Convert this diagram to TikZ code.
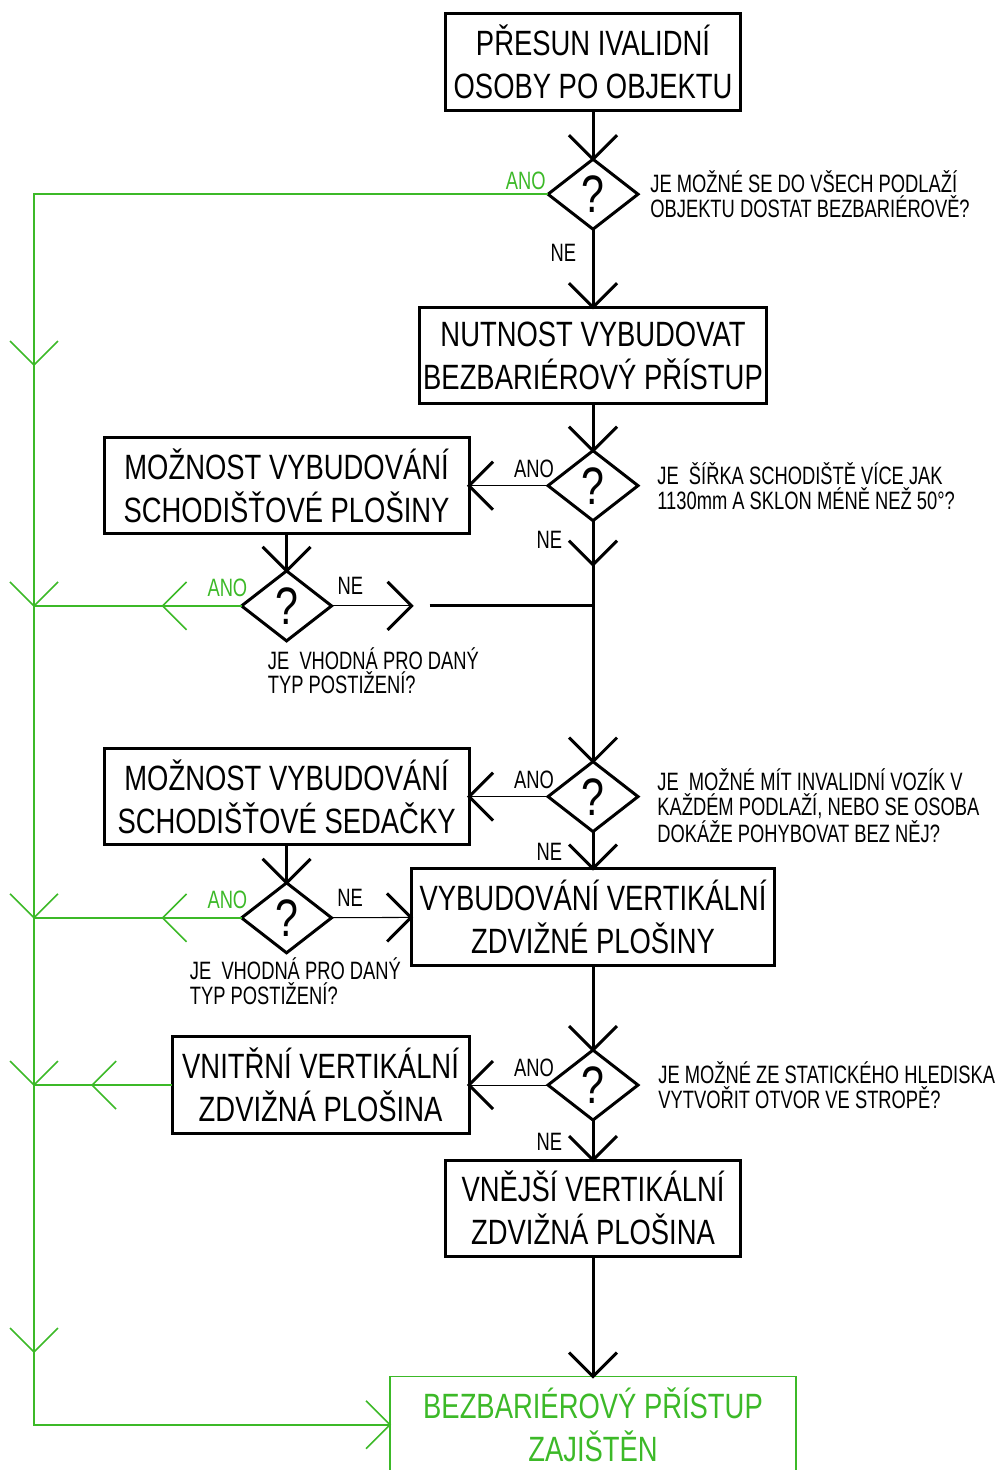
\documentclass[tikz,border=0pt]{standalone}
\usepackage{fontspec}
\setmainfont[FakeStretch=0.78]{Liberation Sans}
\newfontfamily\lblfam[FakeStretch=0.73]{Liberation Sans}
\usetikzlibrary{shapes.geometric,arrows.meta,positioning,calc,decorations.markings}
\definecolor{okgreen}{RGB}{60,185,40}

\newcommand{\boxfont}{\fontsize{20}{24.5}\selectfont}
\newcommand{\lblfont}{\lblfam\fontsize{14.3}{14.2}\selectfont}
\newcommand{\askfont}{\fontsize{30}{30}\selectfont}

% open chevron tip, as in the CAD drawing
\pgfdeclarearrow{
  name = Chev,
  defaults = {length = 0.48cm},
  parameters = {\the\pgfarrowlength,\the\pgfarrowlinewidth},
  setup code = {
    \pgfarrowssettipend{0pt}
    \pgfarrowssetlineend{0pt}
    \pgfarrowssetbackend{-\pgfarrowlength}
    \pgfarrowshullpoint{0pt}{0pt}
    \pgfarrowsupperhullpoint{-\pgfarrowlength}{\pgfarrowlength}
    \pgfarrowssave\pgfarrowlength
    \pgfarrowssave\pgfarrowlinewidth
  },
  drawing code = {
    \pgfsetdash{}{0pt}
    \pgfsetlinewidth{\pgfarrowlinewidth}
    \pgfpathmoveto{\pgfqpoint{-\pgfarrowlength}{\pgfarrowlength}}
    \pgfpathlineto{\pgfpointorigin}
    \pgfpathlineto{\pgfqpoint{-\pgfarrowlength}{-\pgfarrowlength}}
    \pgfusepathqstroke
  }
}

\begin{document}
\begin{tikzpicture}[x=0.02cm, y=0.02cm,
  box/.style={draw, line width=1.7pt, minimum height=1.93cm, align=center, font=\boxfont, inner sep=0pt, outer sep=0pt},
  okbox/.style={box, draw=okgreen, line width=0.9pt, text=okgreen},
  dec/.style={diamond, draw, line width=1.7pt, minimum width=1.8cm, minimum height=1.4cm, inner sep=0pt, outer sep=0pt, font=\askfont},
  ask/.style={font=\lblfont, align=left, inner sep=0pt},
  lbl/.style={font=\lblfont, inner sep=2pt},
  flow/.style={line width=1.7pt, -{Chev[line width=1.7pt]}},
  side/.style={line width=0.6pt, -{Chev[line width=1.7pt]}},
  yes/.style={draw=okgreen, line width=0.9pt},
  yesarr/.style={yes, -{Chev[line width=0.9pt]}},
  chevat/.style={postaction={decorate}, decoration={markings, mark=at position #1 with {\arrow{Chev[line width=0.9pt]}}}}
]
\useasboundingbox (0,0) rectangle (1001,-1470);

% main column
\node[box, minimum width=5.92cm] (start) at (593,-62) {PŘESUN IVALIDNÍ\\OSOBY PO OBJEKTU};
\node[dec, below=0.98cm of start] (d1) {?};
\node[box, minimum width=6.96cm, below=1.56cm of d1] (need) {NUTNOST VYBUDOVAT\\BEZBARIÉROVÝ PŘÍSTUP};
\node[dec, below=0.94cm of need] (d2) {?};
\node[dec, below=4.82cm of d2] (d4) {?};
\node[box, minimum width=7.28cm, below=0.74cm of d4] (lift) {VYBUDOVÁNÍ VERTIKÁLNÍ\\ZDVIŽNÉ PLOŠINY};
\node[dec, below=1.7cm of lift] (d6) {?};
\node[box, minimum width=5.92cm, below=0.8cm of d6] (outer) {VNĚJŠÍ VERTIKÁLNÍ\\ZDVIŽNÁ PLOŠINA};
\node[okbox, minimum width=8.12cm, below=2.4cm of outer] (done) {BEZBARIÉROVÝ PŘÍSTUP\\ZAJIŠTĚN};

% side column
\node[box, minimum width=7.3cm, left=1.58cm of d2] (platform) {MOŽNOST VYBUDOVÁNÍ\\SCHODIŠŤOVÉ PLOŠINY};
\node[dec, below=0.74cm of platform] (d3) {?};
\node[box, minimum width=7.3cm, left=1.58cm of d4] (chair) {MOŽNOST VYBUDOVÁNÍ\\SCHODIŠŤOVÉ SEDAČKY};
\node[dec, below=0.76cm of chair] (d5) {?};
\node[box, minimum width=5.94cm, left=1.58cm of d6] (inner) {VNITŘNÍ VERTIKÁLNÍ\\ZDVIŽNÁ PLOŠINA};

% questions
\node[ask, right=0.24cm of d1] (q1) {JE MOŽNÉ SE DO VŠECH PODLAŽÍ\\OBJEKTU DOSTAT BEZBARIÉROVĚ?};
\node[ask, right=0.38cm of d2] (q2) {JE\ \ ŠÍŘKA SCHODIŠTĚ VÍCE JAK\\1130mm A SKLON MÉNĚ NEŽ 50°?};
\node[ask, below right=0.12cm and -0.38cm of d3.south] (q3) {JE\ \ VHODNÁ PRO DANÝ\\TYP POSTIŽENÍ?};
\node[ask, right=0.38cm of d4, yshift=-0.18cm] (q4) {JE\ \ MOŽNÉ MÍT INVALIDNÍ VOZÍK V\\KAŽDÉM PODLAŽÍ, NEBO SE OSOBA\\DOKÁŽE POHYBOVAT BEZ NĚJ?};
\node[ask, below right=0.1cm and -1.94cm of d5.south] (q5) {JE\ \ VHODNÁ PRO DANÝ\\TYP POSTIŽENÍ?};
\node[ask, right=0.4cm of d6] (q6) {JE MOŽNÉ ZE STATICKÉHO HLEDISKA\\VYTVOŘIT OTVOR VE STROPĚ?};

% helper points
\coordinate (rail) at (34,0);
\coordinate (ja) at (34,-365);
\coordinate (jb) at (34,-1352);
\coordinate (j3) at (d3 -| rail);
\coordinate (j5) at (d5 -| rail);
\coordinate (j6) at (d6 -| rail);
\coordinate[below=0.88cm of d2] (k1);
\coordinate (k2) at (d3 -| d2);
\coordinate[right=1.6cm of d3] (n3);
\coordinate[right=1.96cm of d3] (n3b);

% black flow
\draw[flow] (start) -- (d1);
\draw[flow] (d1) -- node[lbl, pos=0.3, left=0.24cm]{NE} (need);
\draw[flow] (need) -- (d2);
\draw[side] (d2) -- node[lbl, pos=0, anchor=south east, xshift=0.2cm, yshift=0.08cm]{ANO} (platform);
\draw[flow] (d2) -- node[lbl, pos=0.43, left=0.52cm]{NE} (k1);
\draw[flow] (k1) -- (d4);
\draw[flow] (platform) -- (d3);
\draw[side] (d3) -- node[lbl, pos=0, anchor=south west, xshift=0.04cm, yshift=0.14cm]{NE} (n3);
\draw[line width=1.7pt] (n3b) -- (k2);
\draw[side] (d4) -- node[lbl, pos=0, anchor=south east, xshift=0.2cm, yshift=0.08cm]{ANO} (chair);
\draw[flow] (d4) -- node[lbl, pos=0.55, left=0.52cm]{NE} (lift);
\draw[flow] (chair) -- (d5);
\draw[side] (d5) -- node[lbl, pos=0, anchor=south west, xshift=0.04cm, yshift=0.14cm]{NE} (lift);
\draw[flow] (lift) -- (d6);
\draw[side] (d6) -- node[lbl, pos=0, anchor=south east, xshift=0.2cm, yshift=0.08cm]{ANO} (inner);
\draw[flow] (d6) -- node[lbl, pos=0.55, left=0.52cm]{NE} (outer);
\draw[flow] (outer) -- (done);

% green: access already solved
\draw[yesarr] (d1) -| node[lbl, pos=0, anchor=south east, xshift=0.04cm, text=okgreen]{ANO} (ja);
\draw[yesarr] (ja) -- (j3);
\draw[yesarr] (j3) -- (j5);
\draw[yesarr] (j5) -- (j6);
\draw[yesarr] (j6) -- (jb);
\draw[yesarr] (jb) |- (done);
\draw[yes, chevat=1.58cm] (d3) -- node[lbl, pos=0, anchor=south east, xshift=0.2cm, yshift=0.1cm, text=okgreen]{ANO} (j3);
\draw[yes, chevat=1.58cm] (d5) -- node[lbl, pos=0, anchor=south east, xshift=0.2cm, yshift=0.1cm, text=okgreen]{ANO} (j5);
\draw[yes, chevat=1.6cm] (inner) -- (j6);
\end{tikzpicture}
\end{document}
